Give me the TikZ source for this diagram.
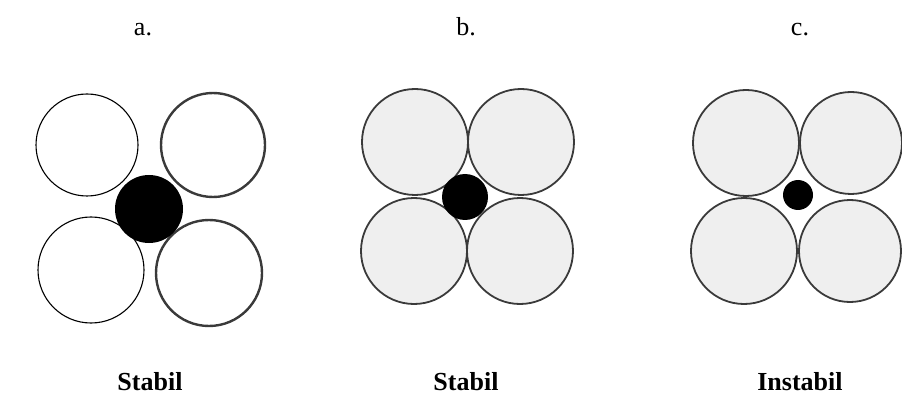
\documentclass[tikz,border=0pt]{standalone}
\usepackage{fontspec}
\setmainfont{Liberation Serif}
\definecolor{ballfill}{HTML}{EFEFEF}
\definecolor{ballline}{HTML}{3A3A3A}
\begin{document}
\begin{tikzpicture}[x=1pt,y=-1pt,
  thinball/.style={draw=black,line width=1.1pt,fill=white},
  thickball/.style={draw=ballline,line width=2.4pt,fill=white},
  greyball/.style={draw=ballline,line width=1.8pt,fill=ballfill},
  ion/.style={fill=black},
  lab/.style={font=\fontsize{26}{30}\selectfont,inner sep=0pt},
  blab/.style={font=\fontsize{26}{30}\selectfont\bfseries,inner sep=0pt}]
\useasboundingbox (0,0) rectangle (902,398);
% panel a
\draw[thinball] (87,145) circle (51);
\draw[thickball] (213,145) circle (52);
\draw[thinball] (91,270) circle (53);
\draw[thickball] (209,273) circle (53);
\fill[ion] (149,209) circle (34);
% panel b
\draw[greyball] (415,142) circle (53);
\draw[greyball] (521,142) circle (53);
\draw[greyball] (414,251) circle (53);
\draw[greyball] (520,251) circle (53);
\fill[ion] (465,197) circle (23);
% panel c
\draw[greyball] (746,143) circle (53);
\draw[greyball] (851,143) circle (51);
\draw[greyball] (744,251) circle (53);
\draw[greyball] (850,251) circle (51);
\fill[ion] (798,195) circle (15);
% labels
\node[lab,anchor=base] (la) at (143,36) {a.};
\node[lab,anchor=base] (lb) at (466,36) {b.};
\node[lab,anchor=base] (lc) at (800,36) {c.};
\node[blab,anchor=base] (sa) at (150,390) {Stabil};
\node[blab,anchor=base] (sb) at (466,390) {Stabil};
\node[blab,anchor=base] (sc) at (800,390) {Instabil};
\end{tikzpicture}
\end{document}
